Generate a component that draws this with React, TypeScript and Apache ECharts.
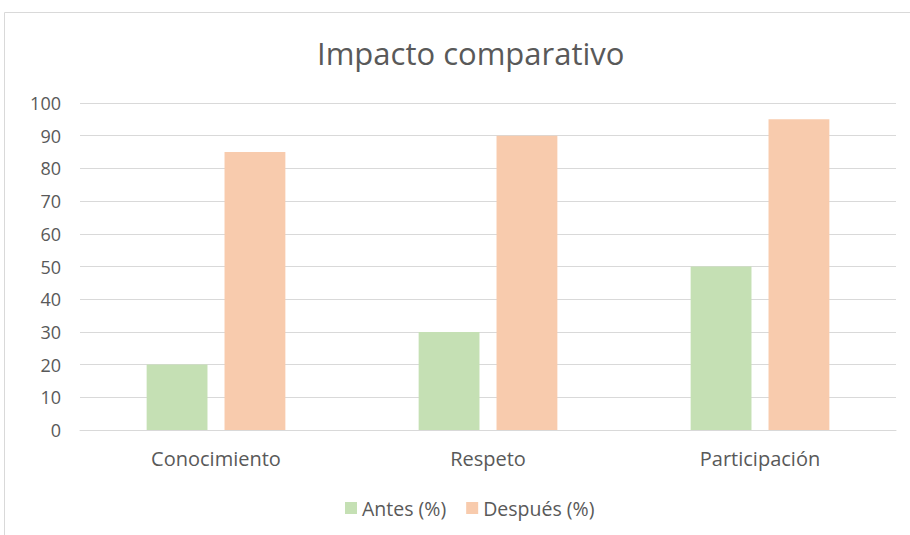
import React, { useEffect, useRef } from "react";
import * as echarts from "echarts";

const categories = ["Conocimiento", "Respeto", "Participación"];
const antes = [20, 30, 50];
const despues = [85, 90, 95];
const seriesNames = ["Antes (%)", "Después (%)"];

export default function App() {
  const ref = useRef<HTMLDivElement>(null);
  useEffect(() => {
    if (!ref.current) return;
    const chart = echarts.init(ref.current, null, { renderer: "svg" });
    const font = "'Open Sans', sans-serif";
    chart.setOption({
      animation: false,
      backgroundColor: "#ffffff",
      textStyle: { fontFamily: font },
      graphic: [
        {
          type: "rect",
          shape: { x: 4.5, y: 12.5, width: 1000, height: 1000 },
          style: { fill: "none", stroke: "#d9d9d9", lineWidth: 1 },
          silent: true,
          z: -1,
        },
      ],
      title: {
        text: "Impacto comparativo",
        left: 312,
        top: 32,
        textStyle: { fontFamily: font, fontSize: 31, fontWeight: "normal", color: "#595959" },
      },
      legend: {
        data: seriesNames,
        left: 340,
        top: 493,
        itemWidth: 12,
        itemHeight: 12,
        itemGap: 20,
        itemStyle: { borderWidth: 0 },
        icon: "rect",
        textStyle: { fontFamily: font, fontSize: 19.5, color: "#595959" },
      },
      grid: { left: 80, right: 14, top: 103, bottom: 105, containLabel: false },
      xAxis: {
        type: "category",
        data: categories,
        axisLine: { show: true, lineStyle: { color: "#d9d9d9", width: 1 } },
        axisTick: { show: false },
        axisLabel: { fontFamily: font, fontSize: 20, color: "#595959", margin: 18 },
      },
      yAxis: {
        type: "value",
        min: 0,
        max: 100,
        interval: 10,
        axisLine: { show: false },
        axisTick: { show: false },
        splitLine: { lineStyle: { color: "#d9d9d9", width: 1 } },
        axisLabel: { fontFamily: font, fontSize: 18, color: "#595959", margin: 19 },
      },
      series: [
        {
          name: seriesNames[0],
          type: "bar",
          data: antes,
          barGap: "28%",
          barCategoryGap: "49%",
          itemStyle: { color: "#C5E0B4" },
        },
        {
          name: seriesNames[1],
          type: "bar",
          data: despues,
          itemStyle: { color: "#F8CBAD" },
        },
      ],
    });
    return () => chart.dispose();
  }, []);
  return (
    <div
      ref={ref}
      style={{ position: "fixed", left: 0, top: 0, width: 910, height: 535 }}
    />
  );
}
